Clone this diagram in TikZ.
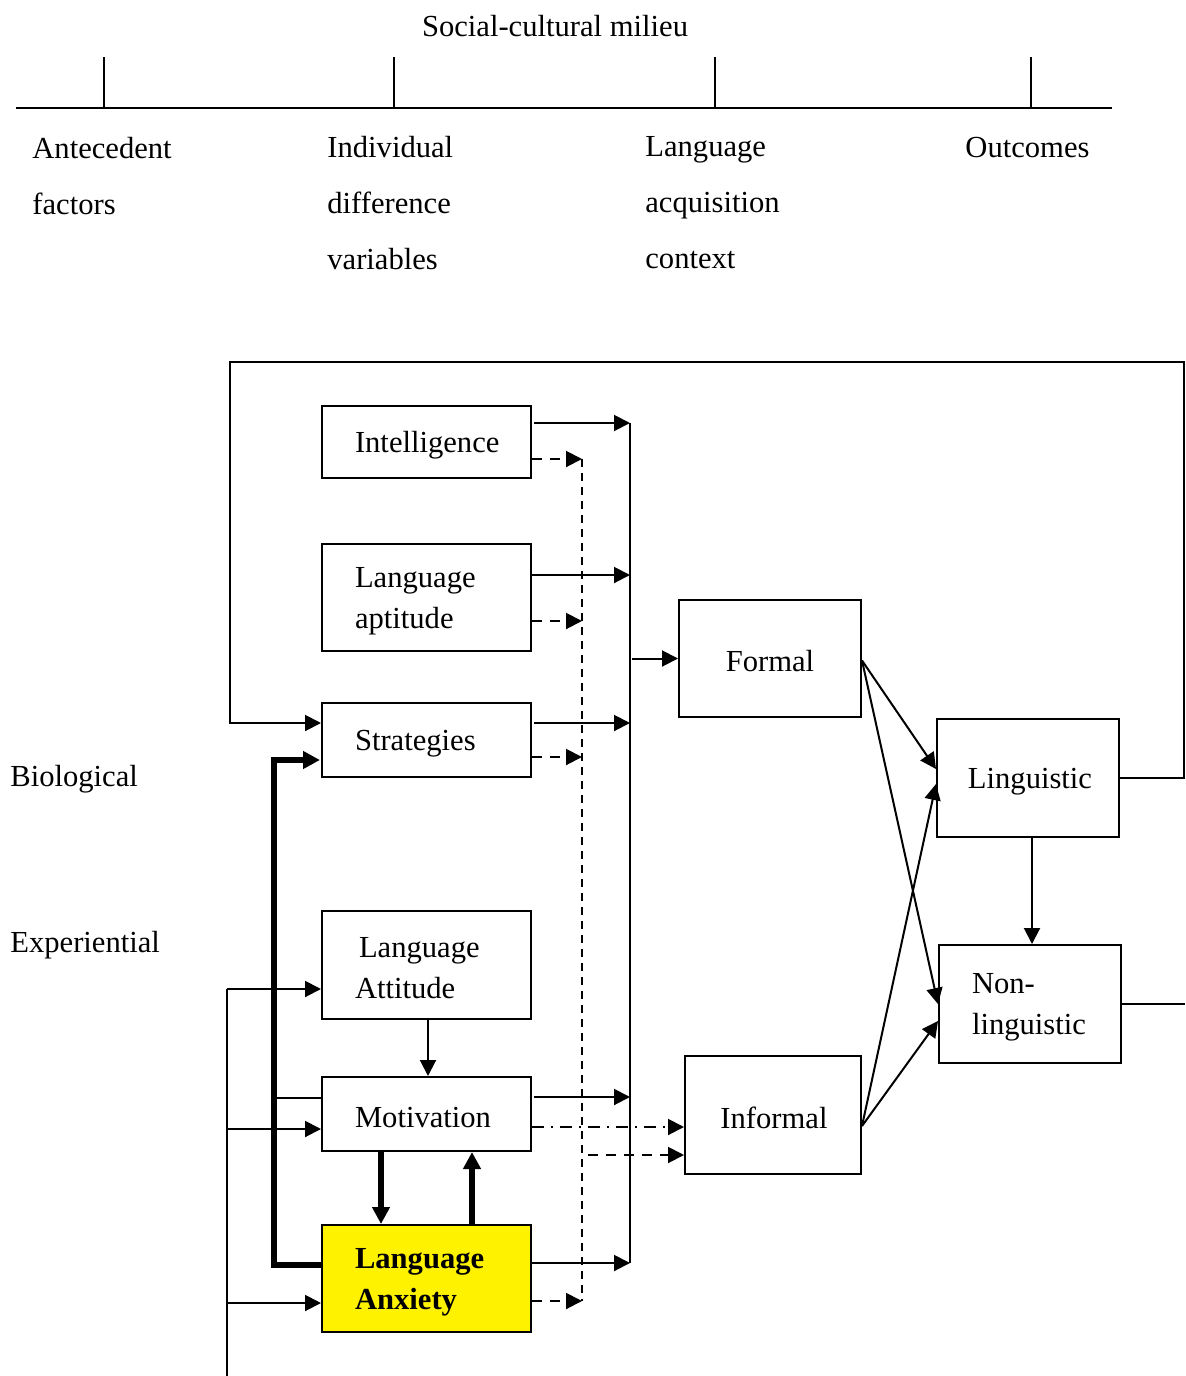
\documentclass[tikz,border=0pt]{standalone}
\usepackage{fontspec}
\setmainfont{Liberation Serif}
\usetikzlibrary{arrows.meta,calc}
\newcommand\topstrut{\rule{0pt}{13.5pt}}
\begin{document}
\begin{tikzpicture}[x=0.5pt,y=-0.5pt,
  every node/.style={font=\fontsize{15.3}{20.5}\selectfont},
  hdr/.style={anchor=west,align=left,inner sep=0pt,font=\fontsize{15.3}{28}\selectfont},
  box/.style={draw,line width=1pt,anchor=north west,inner ysep=0pt},
  lbox/.style={box,align=left,inner xsep=16.5pt},
  cbox/.style={box,align=center,inner xsep=0pt,text width=88pt,minimum width=91pt,minimum height=59pt},
  ln/.style={line width=1pt},
  tip/.style={-{Triangle[length=8pt,width=8pt]}},
  arr/.style={ln,tip},
  darr/.style={arr,dash pattern=on 5pt off 4pt},
  ddarr/.style={arr,dash pattern=on 6pt off 3.5pt on 1pt off 3.5pt},
  tarr/.style={line width=2.8pt,line join=miter,-{Triangle[length=8.5pt,width=8.5pt]}},
  bus/.style={ln},
  dbus/.style={line width=0.9pt,dash pattern=on 4pt off 3pt}
]
\useasboundingbox (0,0) rectangle (1185,1376);

% ---- stage axis ----
\node (milieu) at (555,26) {Social-cultural milieu};
\draw[line width=1pt] (16,108) -- (1112,108);
\foreach \t in {104,394,715,1031}
  \draw[line width=0.6pt] (\t,57) -- (\t,108);
\node[hdr] (ante) at (32,176) {Antecedent\\factors};
\node[hdr] (indiv) at (327,203) {Individual\\difference\\variables};
\node[hdr] (lac) at (645,203) {Language\\acquisition\\context};
\node[hdr] (outc) at (965,148) {Outcomes};

% ---- antecedent factors ----
\node[anchor=west,inner sep=0pt] (bio) at (10,779) {Biological};
\node[anchor=west,inner sep=0pt] (exp) at (10,945) {Experiential};

% ---- individual difference variables ----
\node[lbox,text width=71.5pt,minimum height=36pt]   (intel) at (321,405)  {\topstrut Intelligence};
\node[lbox,text width=71.5pt,minimum height=53.5pt] (apt)   at (321,543)  {\topstrut Language\\aptitude};
\node[lbox,text width=71.5pt,minimum height=37pt]   (strat) at (321,702)  {\topstrut Strategies};
\node[lbox,text width=71.5pt,minimum height=54pt]   (att)   at (321,910)  {\topstrut\hspace*{2pt}Language\\Attitude};
\node[lbox,text width=71.5pt,minimum height=37pt]   (mot)   at (321,1076) {\topstrut Motivation};
\node[lbox,text width=71.5pt,minimum height=53.5pt,fill=yellow,font=\fontsize{15.3}{20.5}\selectfont\bfseries] (anx) at (321,1224) {\topstrut Language\\Anxiety};

% ---- contexts ----
\node[cbox,minimum height=58.5pt] (formal) at (678,599) {\topstrut Formal};
\node[cbox,minimum width=88pt] (informal) at (684,1055) {\topstrut\hspace*{1pt}Informal};

% ---- outcomes ----
\node[cbox] (ling) at (936,718) {\topstrut\hspace*{2pt}Linguistic};
\node[lbox,text width=58pt,minimum height=59pt] (nonling) at (938,944) {\topstrut Non-\\linguistic};

% ---- collecting lines ----
\coordinate (bI) at (630,423);
\coordinate (bA) at (630,575);
\coordinate (bS) at (630,723);
\coordinate (bM) at (630,1097);
\coordinate (bX) at (630,1263);
\coordinate (dI) at (582,459);
\coordinate (dA) at (582,621);
\coordinate (dS) at (582,757);
\coordinate (dX) at (582,1301);
\coordinate (dM) at (588,1155);

\draw[bus] (bI) -- (bX);
\draw[dbus] (dI) -- (dX);

\draw[arr] ([xshift=1pt]intel.east |- bI) -- (bI);
\draw[arr] (apt.east |- bA) -- (bA);
\draw[arr] ([xshift=1pt]strat.east |- bS) -- (bS);
\draw[arr] ([xshift=1pt]mot.east |- bM) -- (bM);
\draw[arr] (anx.east |- bX) -- (bX);

\draw[darr] (intel.east |- dI) -- (dI);
\draw[darr] (apt.east |- dA) -- (dA);
\draw[darr] (strat.east |- dS) -- (dS);
\draw[darr] (anx.east |- dX) -- (dX);

\draw[arr] ([xshift=1pt]formal.west -| bI) -- (formal.west);
\draw[ddarr] (mot.east |- 0,1127) -- (informal.west |- 0,1127);
\draw[darr] (dM) -- (informal.west |- dM);

% ---- context to outcome ----
\draw[arr] ([yshift=-1pt]formal.east) -- ([yshift=4.5pt]ling.west);
\draw[arr] ([yshift=-1pt]formal.east) -- (nonling.west);
\draw[arr] ([yshift=-5.5pt]informal.east) -- ([yshift=-3pt]ling.west);
\draw[arr] ([yshift=-5.5pt]informal.east) -- ([yshift=-8.5pt]nonling.west);
\draw[arr] ([xshift=2pt]ling.south) -- ([xshift=2pt]ling.south |- nonling.north);
\draw[ln] (nonling.east) -- (nonling.east -| 1185,0);

% ---- feedback from linguistic outcomes ----
\coordinate (fbR) at (1184,362);
\coordinate (fbL) at (230,723);
\draw[arr] (ling.east) -| (fbR) -| (fbL) -- (strat.west |- fbL);

% ---- anxiety links ----
\coordinate (tk) at (274,760);
\draw[tarr] (anx.west |- 0,1265) -| (tk) -- ([xshift=-0.5pt]strat.west |- tk);
\draw[ln] (tk |- 0,1098) -- (mot.west |- 0,1098);
\draw[tarr] (mot.south -| 381,0) -- (anx.north -| 381,0);
\draw[tarr] (anx.north -| 472,0) -- (mot.south -| 472,0);
\draw[arr] (att.south -| 428,0) -- (mot.north -| 428,0);

% ---- experiential inputs ----
\coordinate (ex) at (227,989);
\draw[ln] (ex) -- (227,1376);
\draw[arr] (ex) -- (att.west |- ex);
\draw[arr] (227,1129) -- (mot.west |- 0,1129);
\draw[arr] (227,1303) -- (anx.west |- 0,1303);
\end{tikzpicture}
\end{document}
